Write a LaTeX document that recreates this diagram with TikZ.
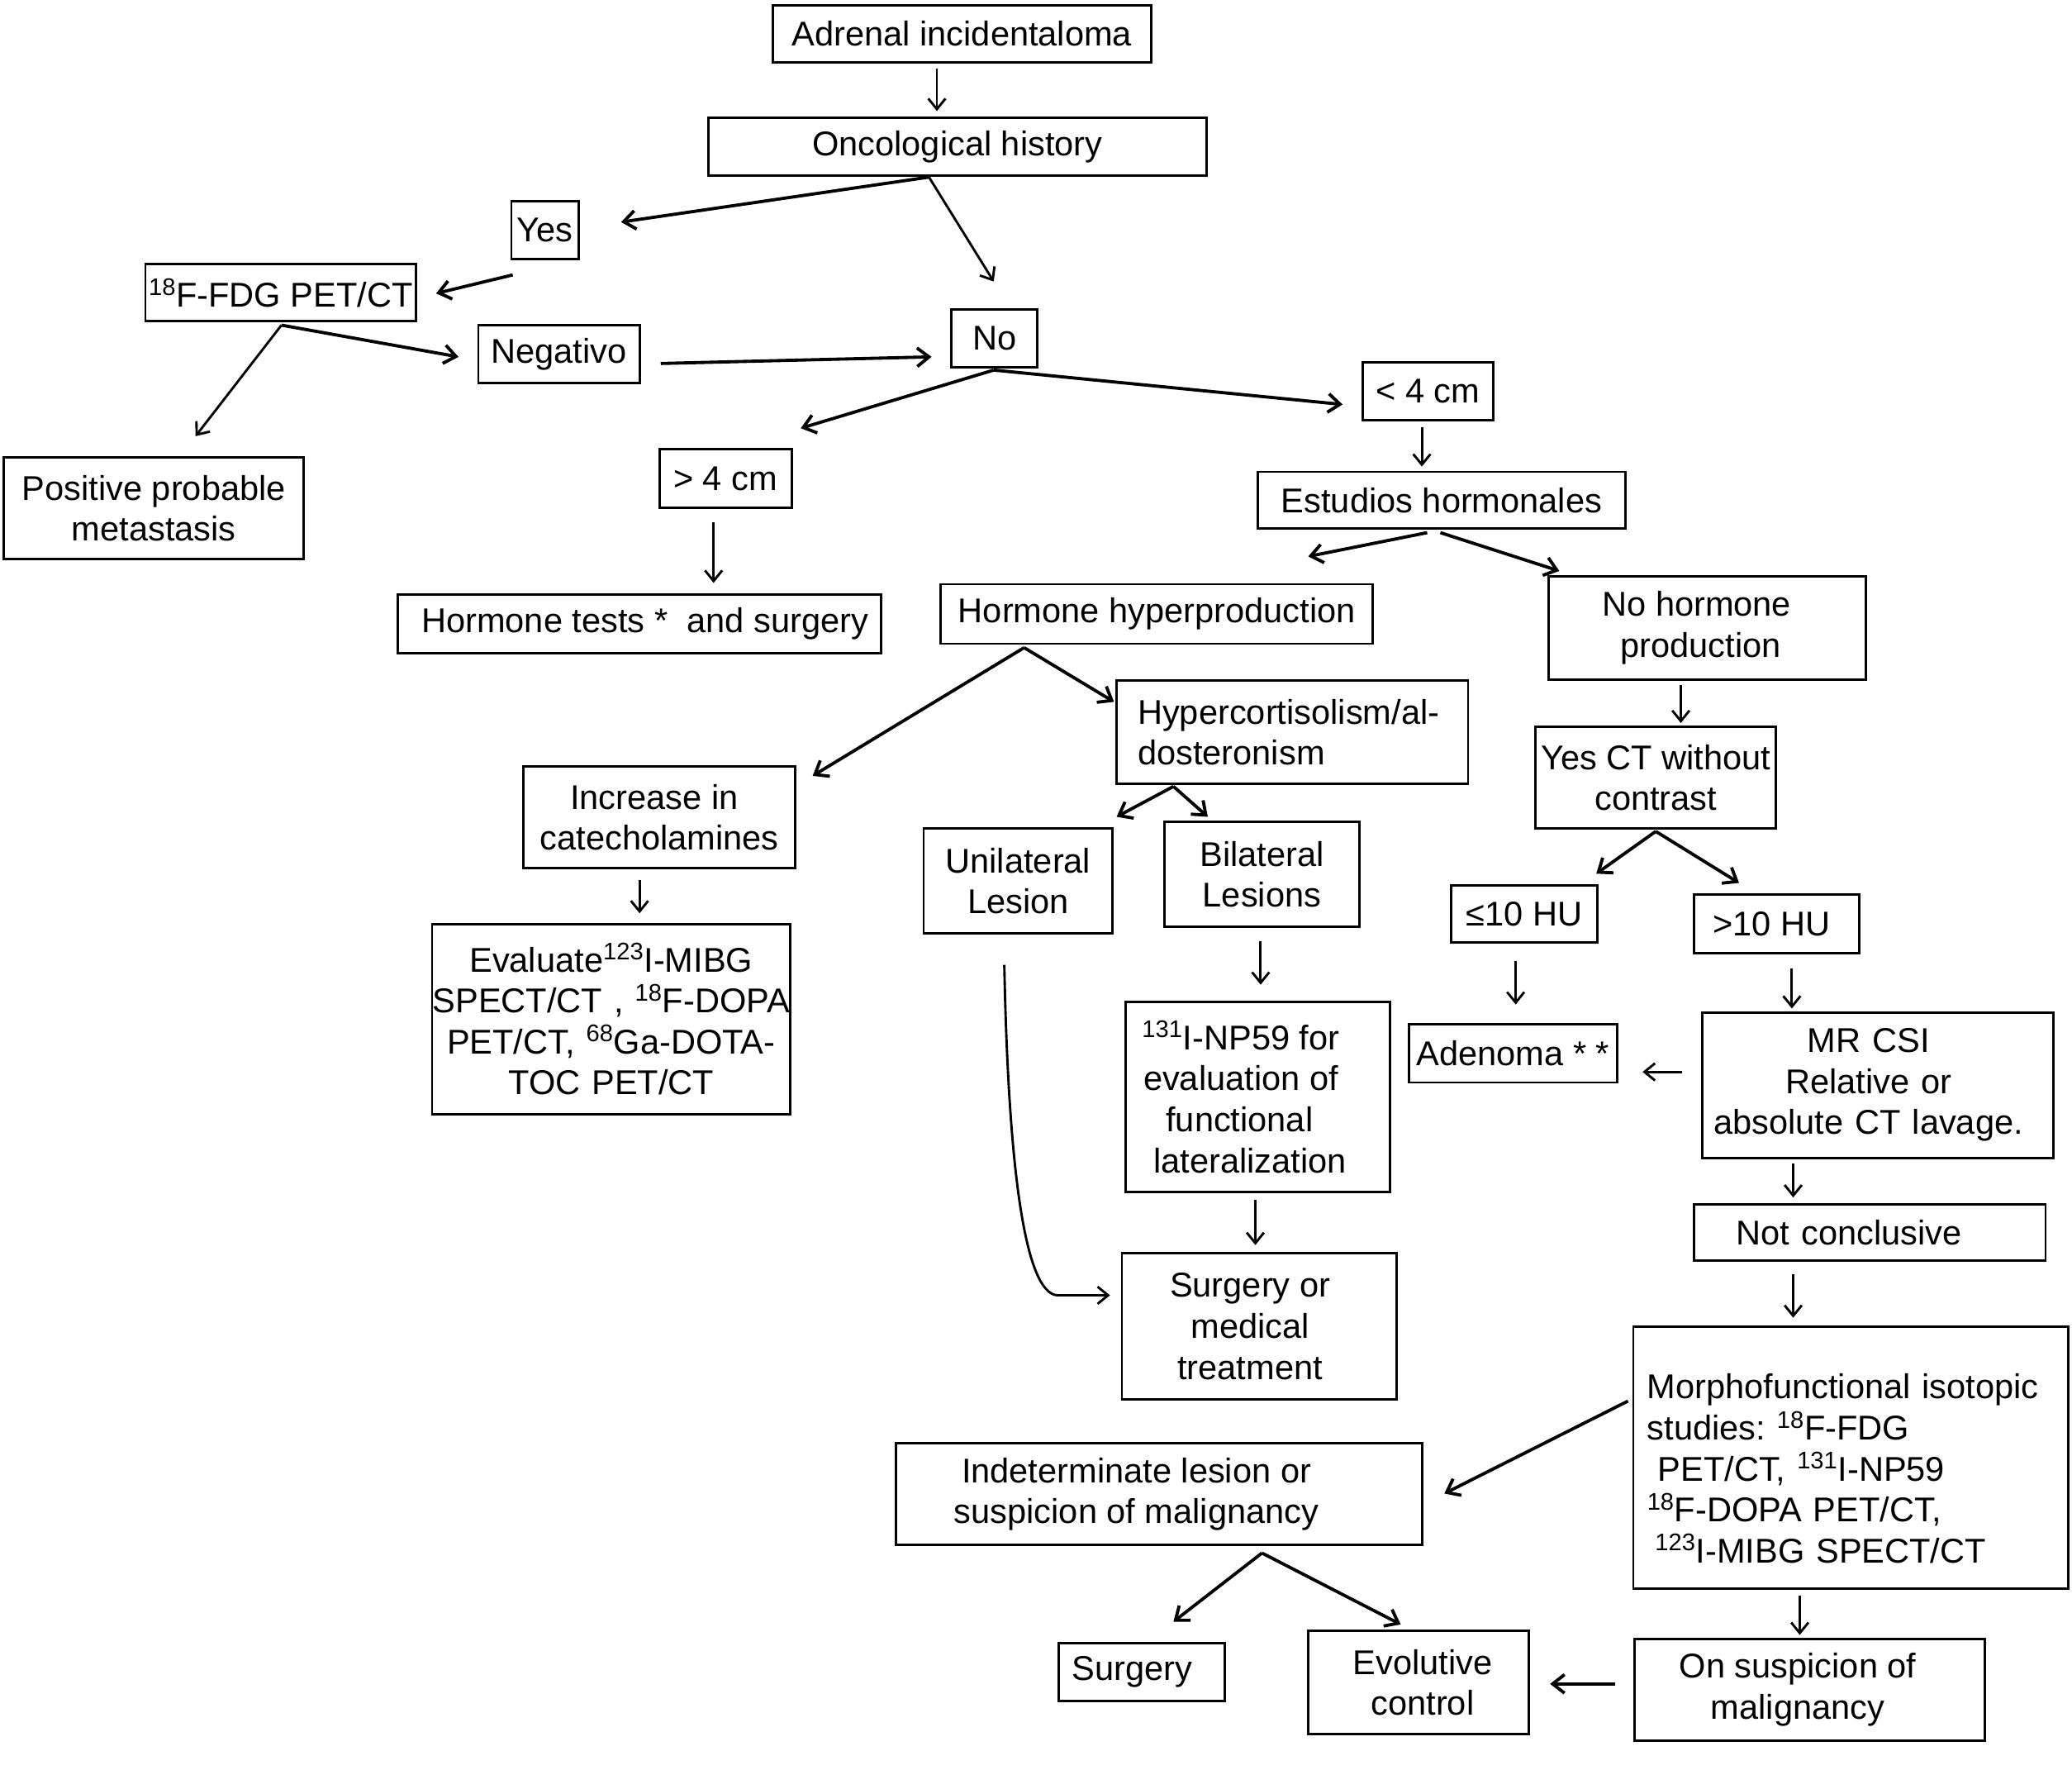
\documentclass[tikz,border=0pt]{standalone}
\usepackage{fontspec}
\setmainfont{Liberation Sans}
\usetikzlibrary{arrows.meta}
\frenchspacing
\newcommand\fs{\fontsize{26}{31}\selectfont\frenchspacing}
\newcommand\sps[1]{\textsuperscript{#1}}
\newcommand\bx[6][]{\node[box,minimum width={(#4)-(#2)},minimum height={(#5)-(#3)},#1] (#6) at ({(#2+#4)/2},{(#3+#5)/2})}
\newcommand\con[4][arr]{\coordinate (#2-s) at (#3); \coordinate (#2-e) at (#4); \draw[#1] (#2-s) -- (#2-e);}
\begin{document}
\begin{tikzpicture}[x=1pt,y=-1pt,
  box/.style={draw,line width=1.8pt,inner sep=0pt,align=center,font=\fs},
  arr/.style={line width=1.8pt,-{Straight Barb[length=8pt,width=13pt,line width=1.8pt]}},
  tarr/.style={line width=2.4pt,-{Straight Barb[length=9pt,width=14pt,line width=2.4pt]}}]
\useasboundingbox (0,0) rectangle (1568,1339);
% boxes
\bx{585}{4}{871}{47}{adrenal} {Adrenal incidentaloma};
\bx{536}{89}{913}{133}{onco} {Oncological history};
\bx{387}{152}{438}{196}{yes} {Yes};
\bx{110}{200}{315}{243}{fdg} {\sps{18}F-FDG PET/CT};
\bx{362}{246}{484}{290}{neg} {Negativo};
\bx{720}{234}{785}{278}{no} {No};
\bx{3}{346}{230}{423}{pos} {Positive probable\\metastasis};
\bx{499}{340}{599}{384}{gt4} {> 4 cm};
\bx{1031}{274}{1130}{318}{lt4} {< 4 cm};
\bx{952}{357}{1230}{400}{estud} {Estudios hormonales};
\bx{301}{450}{667}{494}{htests} {\hspace*{8pt}Hormone tests *\ \ and surgery};
\bx{712}{442}{1039}{487}{hyper} {Hormone hyperproduction};
\bx{1172}{436}{1412}{514}{nohorm} {\hspace*{-16pt}No hormone\\\hspace*{-10pt}production};
\bx[align=left,text width=234]{845}{515}{1111}{593}{cort} {Hypercortisolism/al-\\dosteronism};
\bx{396}{580}{602}{657}{catec} {\hspace*{-8pt}Increase in\\catecholamines};
\bx{1162}{550}{1344}{627}{yesct} {Yes CT without\\contrast};
\bx{699}{627}{842}{706}{unil} {Unilateral\\Lesion};
\bx{881}{622}{1029}{701}{bil} {Bilateral\\Lesions};
\bx{1098}{670}{1209}{713}{le10} {≤10 HU};
\bx{1282}{677}{1407}{721}{gt10} {\hspace*{-8pt}>10 HU};
\bx[text width=266]{327}{699}{598}{843}{evalu} {Evaluate\sps{123}I-MIBG\\\makebox[250pt][c]{SPECT/CT , \sps{18}F-DOPA}\\PET/CT, \sps{68}Ga-DOTA-\\TOC PET/CT};
\bx{852}{758}{1052}{902}{np59} {\hspace*{-26pt}\sps{131}I-NP59 for\\\hspace*{-26pt}evaluation of\\\hspace*{-28pt}functional\\\hspace*{-12pt}lateralization};
\bx{1066}{775}{1224}{819}{aden} {Adenoma * *};
\bx[text width=252]{1288}{766}{1554}{876}{mrcsi} {\hspace*{-14pt}MR CSI\\\hspace*{-14pt}Relative or\\\hspace*{-14pt}absolute CT lavage.};
\bx[align=left,text width=202]{1282}{911}{1548}{954}{notc} {Not conclusive};
\bx{849}{948}{1057}{1059}{surgmed} {\hspace*{-14pt}Surgery or\\\hspace*{-14pt}medical\\\hspace*{-14pt}treatment};
\bx[align=left,text width=308]{1236}{1004}{1565}{1202}{morpho} {\rule{0pt}{35pt}Morphofunctional isotopic\\studies: \sps{18}F-FDG\\\hspace*{8pt}PET/CT, \sps{131}I-NP59\\\sps{18}F-DOPA PET/CT,\\\hspace*{6pt}\sps{123}I-MIBG SPECT/CT};
\bx{678}{1092}{1076}{1169}{indet} {\hspace*{-34pt}Indeterminate lesion or\\\hspace*{-34pt}suspicion of malignancy};
\bx{801}{1243}{927}{1287}{surg} {\hspace*{-14pt}Surgery};
\bx{990}{1234}{1157}{1312}{evol} {\hspace*{6pt}Evolutive\\\hspace*{6pt}control};
\bx{1237}{1240}{1502}{1317}{onsusp} {\hspace*{-18pt}On suspicion of\\\hspace*{-18pt}malignancy};
% connectors
\con{a}{709,52}{709,84}
\con[tarr]{b}{703,134}{470,168}
\con{c}{703,134}{752,213}
\con[tarr]{d}{388,208}{330,222}
\con[tarr]{e}{213,246}{347,270}
\con{f}{213,246}{148,330}
\con[tarr]{g}{500,275}{705,270}
\con[tarr]{h}{752,280}{606,324}
\con[tarr]{i}{752,280}{1016,306}
\con{j}{540,395}{540,441}
\con{k}{1076,323}{1076,353}
\con[tarr]{l}{1080,403}{990,421}
\con[tarr]{m}{1090,403}{1180,432}
\con[tarr]{n}{775,490}{615,587}
\con[tarr]{o}{775,490}{843,531}
\con{p}{484,666}{484,691}
\con{q}{1272,518}{1272,547}
\con[tarr]{r}{888,595}{845,618}
\con[tarr]{s}{888,595}{914,618}
\con[tarr]{t}{1253,629}{1208,661}
\con[tarr]{u}{1253,629}{1316,668}
\con{v}{954,712}{954,745}
\con{w}{1147,727}{1147,760}
\con{x}{1356,733}{1356,763}
\coordinate (y-s) at (760,730);
\coordinate (y-e) at (840,980);
\draw[arr] (y-s) .. controls (763,880) and (775,978) .. (800,980) -- (y-e);
\con{z}{950,908}{950,942}
\con{aa}{1273,811}{1243,811}
\con{bb}{1357,880}{1357,906}
\con{cc}{1357,964}{1357,997}
\con[tarr]{dd}{1232,1060}{1093,1130}
\con[tarr]{ee}{955,1175}{888,1227}
\con[tarr]{ff}{955,1175}{1060,1229}
\con{gg}{1362,1207}{1362,1237}
\con[tarr]{hh}{1222,1274}{1173,1274}
\end{tikzpicture}
\end{document}
